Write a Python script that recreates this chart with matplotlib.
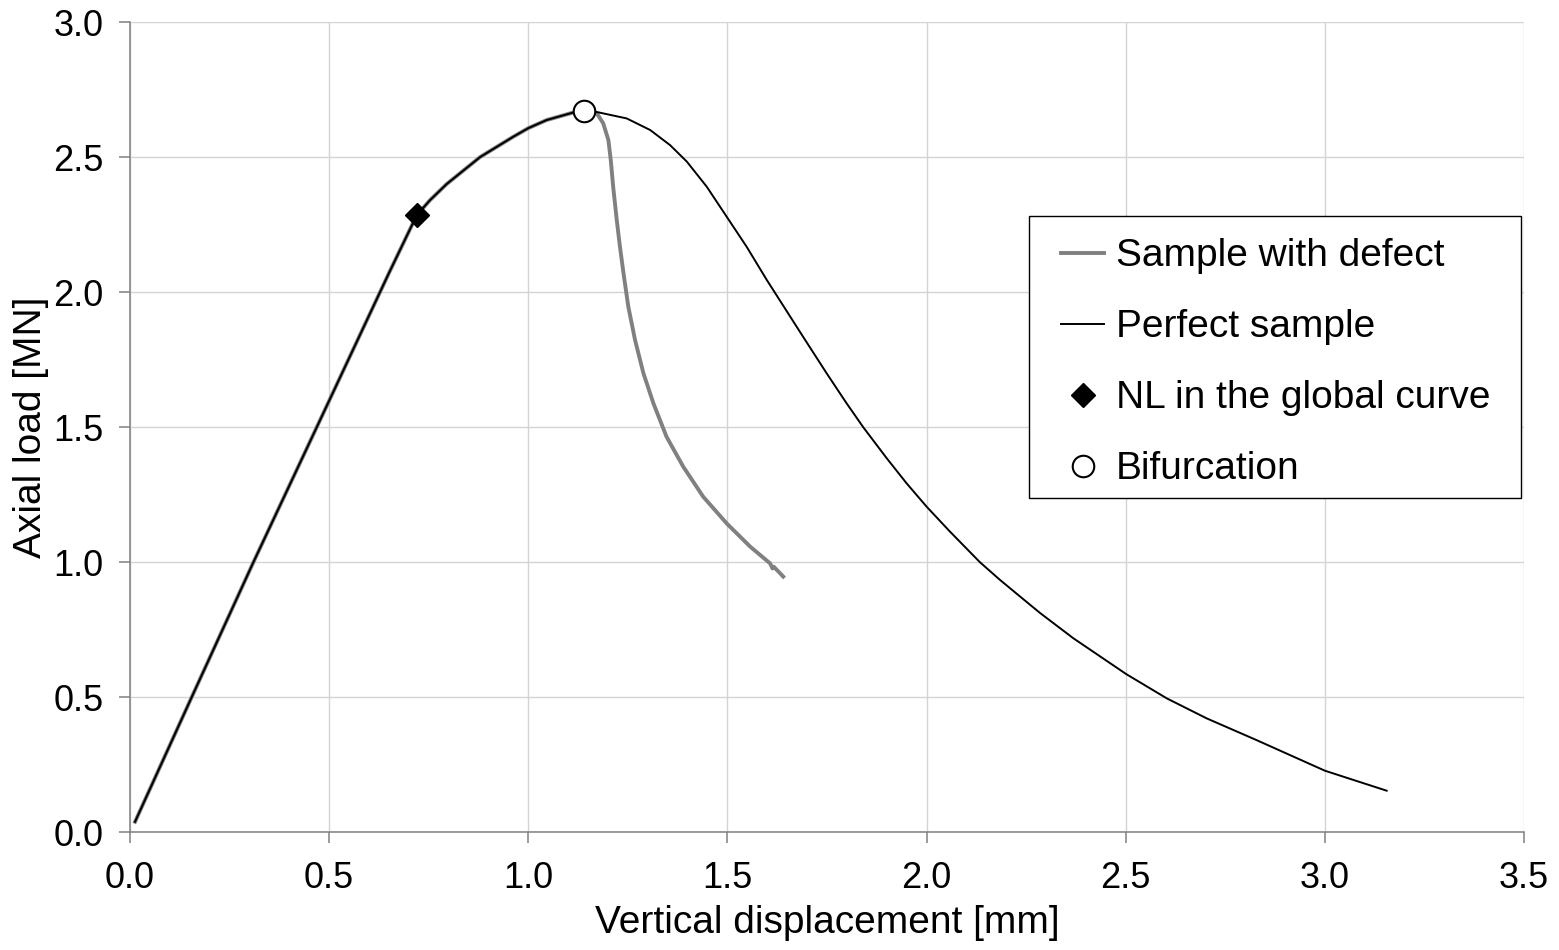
import numpy as np
import matplotlib
matplotlib.use("Agg")
import matplotlib.pyplot as plt
from matplotlib.patches import Rectangle
from matplotlib.ticker import FormatStrFormatter

matplotlib.rcParams["font.family"] = ["Liberation Sans", "DejaVu Sans"]

# perfect sample: load [MN] vs displacement [mm]
perfect_x = [0.0126, 0.155, 0.31, 0.469, 0.65, 0.72, 0.753, 0.795, 0.879,
             0.962, 1.0, 1.046, 1.113, 1.14, 1.168, 1.247, 1.306, 1.356,
             1.398, 1.448, 1.498, 1.548, 1.599, 1.690, 1.749, 1.799,
             1.841, 1.900, 1.950, 2.000, 2.059, 2.134, 2.184, 2.243, 2.285,
             2.368, 2.501, 2.603, 2.703, 2.829, 3.000, 3.155]
perfect_y = [0.038, 0.50, 1.00, 1.50, 2.07, 2.285, 2.34, 2.40, 2.50,
             2.575, 2.607, 2.637, 2.665, 2.670, 2.668, 2.643, 2.600, 2.544,
             2.483, 2.390, 2.279, 2.168, 2.044, 1.834, 1.699, 1.588,
             1.499, 1.384, 1.291, 1.205, 1.112, 0.999, 0.934, 0.862, 0.811,
             0.718, 0.585, 0.495, 0.421, 0.340, 0.227, 0.153]

# sample with defect (same path until bifurcation)
defect_x = [0.0126, 0.155, 0.31, 0.469, 0.65, 0.72, 0.753, 0.795, 0.879,
            0.962, 1.0, 1.046, 1.113, 1.14, 1.172, 1.188, 1.201, 1.207,
            1.213, 1.222, 1.230, 1.239, 1.251, 1.268, 1.289, 1.314, 1.347,
            1.389, 1.439, 1.498, 1.557, 1.607, 1.613, 1.616, 1.640]
defect_y = [0.038, 0.50, 1.00, 1.50, 2.07, 2.285, 2.34, 2.40, 2.50,
            2.575, 2.607, 2.637, 2.665, 2.670, 2.662, 2.625, 2.563, 2.489,
            2.390, 2.267, 2.168, 2.069, 1.946, 1.822, 1.699, 1.588, 1.464,
            1.353, 1.242, 1.143, 1.057, 0.995, 0.976, 0.983, 0.946]

nl_point = (0.72, 2.285)
bif_point = (1.14, 2.670)

fig = plt.figure(figsize=(15.59, 9.5), dpi=100)
ax = fig.add_axes([0.0834, 0.1242, 0.8942, 0.8526])

ax.plot(defect_x, defect_y, color="#808080", lw=2.8, label="Sample with defect",
        solid_joinstyle="round", zorder=3)
ax.plot(perfect_x, perfect_y, color="black", lw=1.4, label="Perfect sample",
        solid_joinstyle="round", zorder=4)
ax.plot([nl_point[0]], [nl_point[1]], ls="none", marker="D", ms=12.5,
        mfc="black", mec="black", label="NL in the global curve", zorder=5)
ax.plot([bif_point[0]], [bif_point[1]], ls="none", marker="o", ms=15.5,
        mfc="white", mec="black", mew=1.5, label="Bifurcation", zorder=5)

ax.set_xlim(0, 3.5)
ax.set_ylim(0, 3.0)
ax.set_xticks(np.arange(0, 3.51, 0.5))
ax.set_yticks(np.arange(0, 3.01, 0.5))
ax.xaxis.set_major_formatter(FormatStrFormatter("%.1f"))
ax.yaxis.set_major_formatter(FormatStrFormatter("%.1f"))

ax.grid(True, color="#d4d4d4", lw=1.0)
ax.set_axisbelow(True)
for s in ["top", "right"]:
    ax.spines[s].set_visible(False)
for s in ["left", "bottom"]:
    ax.spines[s].set_color("#808080")
    ax.spines[s].set_linewidth(1.1)
ax.tick_params(direction="out", length=8, width=1.1, color="#808080",
               labelsize=26, pad=11)
ax.tick_params(axis="x", pad=13)

ax.set_xlabel("Vertical displacement [mm]", fontsize=28, labelpad=6)
ax.set_ylabel("Axial load [MN]", fontsize=28, labelpad=3)

# legend frame drawn separately (wider side padding than top/bottom)
box = Rectangle((0.645, 0.412), 0.353, 0.348, transform=ax.transAxes,
                facecolor="white", edgecolor="black", lw=1.0, zorder=6)
ax.add_patch(box)
leg = ax.legend(loc="upper left", bbox_to_anchor=(0.668, 0.733), fontsize=28,
                frameon=False, borderpad=0, labelspacing=0.9, handlelength=1.1,
                handletextpad=0.3, borderaxespad=0)
leg.set_zorder(7)

fig.savefig("out.png", dpi=100)
